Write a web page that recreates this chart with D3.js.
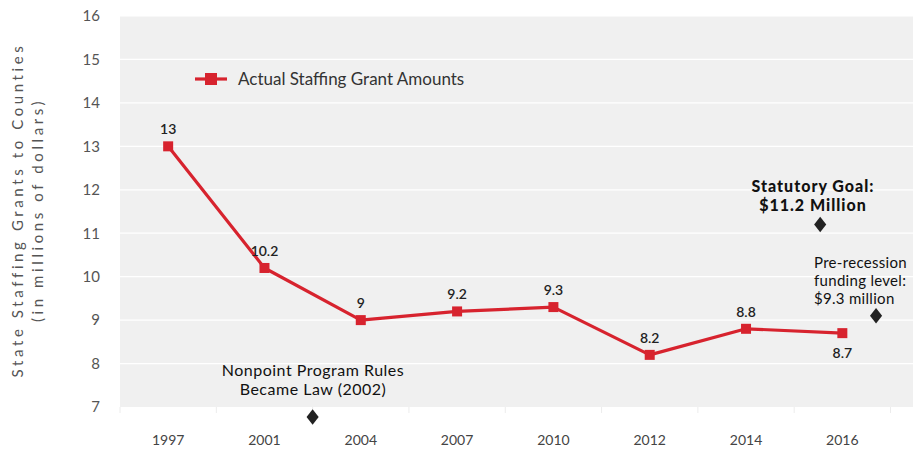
<!DOCTYPE html>
<html>
<head>
<meta charset="utf-8">
<script src="https://cdn.jsdelivr.net/npm/d3@7"></script>
<style>
  html, body { margin: 0; padding: 0; background: #fff; }
  svg { display: block; font-family: "Lato", "Open Sans", sans-serif; }
</style>
</head>
<body>
<svg id="chart" width="913" height="450"></svg>
<script>
// Staffing grant amounts by year (millions of dollars)
const years = ["1997", "2001", "2004", "2007", "2010", "2012", "2014", "2016"];
const grants = [13, 10.2, 9, 9.2, 9.3, 8.2, 8.8, 8.7];
const yTicks = [7, 8, 9, 10, 11, 12, 13, 14, 15, 16];

// Reference markers (diamonds) with their notes
const markerNames = ["Nonpoint rules", "Statutory goal", "Pre-recession level"];
const markerSlots = [2.0, 7.27, 7.85];   // position along the year axis, in category units
const markerValues = [6.77, 11.2, 9.1];

const W = 913, H = 450;
const plot = { left: 120, right: 913, top: 16, bottom: 407 };

const svg = d3.select("#chart");

const x = d3.scaleBand().domain(years).range([plot.left, 890.5]).paddingInner(0).paddingOuter(0);
const slot = d3.scaleLinear().domain([0, years.length]).range([plot.left, 890.5]);
const y = d3.scaleLinear().domain([7, 16]).range([plot.bottom, plot.top]);

// Plot background
svg.append("rect")
  .attr("x", plot.left).attr("y", plot.top)
  .attr("width", plot.right - plot.left).attr("height", plot.bottom - plot.top)
  .attr("fill", "#f0f0f0");

// Horizontal gridlines
svg.append("g").selectAll("line").data(yTicks.filter(d => d > 7)).join("line")
  .attr("x1", plot.left).attr("x2", plot.right)
  .attr("y1", d => y(d)).attr("y2", d => y(d))
  .attr("stroke", "#ffffff").attr("stroke-width", 1.2);

// Y axis labels
const yAxis = d3.axisLeft(y).tickValues(yTicks).tickSize(0).tickPadding(0).tickFormat(d3.format("d"));
const gy = svg.append("g").attr("transform", `translate(${plot.left - 20},0)`).call(yAxis);
gy.select(".domain").remove();
gy.selectAll("text").attr("font-size", 15).attr("fill", "#555").attr("font-family", "Lato, sans-serif");

// X axis: category labels and faint boundary ticks
const xAxis = d3.axisBottom(x).tickSize(0).tickPadding(0);
const gx = svg.append("g").attr("transform", `translate(0,${plot.bottom + 28})`).call(xAxis);
gx.select(".domain").remove();
gx.selectAll("text").attr("font-size", 14).attr("fill", "#444").attr("font-family", "Lato, sans-serif");

svg.append("g").selectAll("line").data(d3.range(years.length + 1)).join("line")
  .attr("x1", d => slot(d)).attr("x2", d => slot(d))
  .attr("y1", plot.bottom).attr("y2", plot.bottom + 6)
  .attr("stroke", "#ececec").attr("stroke-width", 1);

// Y axis title
const yTitle = svg.append("text")
  .attr("transform", `translate(23,210) rotate(-90)`)
  .attr("text-anchor", "middle")
  .attr("font-size", 15).attr("fill", "#555").attr("letter-spacing", 3.6);
yTitle.append("tspan").attr("x", 0).attr("dy", 0).text("State Staffing Grants to Counties");
yTitle.append("tspan").attr("x", 0).attr("dy", 20).text("(in millions of dollars)");

// Series line
const red = "#d7232e";
const pts = years.map((yr, i) => ({ yr, v: grants[i] }));
const line = d3.line().x(d => x(d.yr) + x.bandwidth() / 2).y(d => y(d.v));
svg.append("path").datum(pts)
  .attr("d", line).attr("fill", "none")
  .attr("stroke", red).attr("stroke-width", 3.2).attr("stroke-linejoin", "round");

svg.append("g").selectAll("rect").data(pts).join("rect")
  .attr("x", d => x(d.yr) + x.bandwidth() / 2 - 5)
  .attr("y", d => y(d.v) - 5)
  .attr("width", 10).attr("height", 10)
  .attr("fill", red);

// Value labels
svg.append("g").selectAll("text").data(pts).join("text")
  .attr("x", d => x(d.yr) + x.bandwidth() / 2)
  .attr("y", d => d.yr === "2016" ? y(d.v) + 25 : y(d.v) - 12)
  .attr("text-anchor", "middle")
  .attr("font-size", 14).attr("font-weight", 600).attr("fill", "#222")
  .text(d => d3.format("")(d.v));

// Legend
const lg = svg.append("g").attr("transform", "translate(195,79)");
lg.append("line").attr("x1", 0).attr("x2", 32).attr("y1", 0).attr("y2", 0)
  .attr("stroke", red).attr("stroke-width", 3.2);
lg.append("rect").attr("x", 10).attr("y", -6).attr("width", 12).attr("height", 12).attr("fill", red);
lg.append("text").attr("x", 43).attr("y", 6).attr("font-size", 17).attr("fill", "#333")
  .text("Actual Staffing Grant Amounts");

// Diamond markers
const diamond = d3.symbol().type(d3.symbolDiamond).size(70);
svg.append("g").selectAll("path").data(markerNames.map((n, i) => ({ n, s: markerSlots[i], v: markerValues[i] }))).join("path")
  .attr("d", diamond)
  .attr("transform", d => `translate(${slot(d.s)},${y(d.v)}) scale(1.35,1)`)
  .attr("fill", "#222");

// Notes
function note(lines, xPos, yPos, anchor, size, weight, gap, spacing) {
  const t = svg.append("text").attr("text-anchor", anchor)
    .attr("font-size", size).attr("font-weight", weight).attr("fill", "#111")
    .attr("letter-spacing", spacing || 0);
  lines.forEach((s, i) => t.append("tspan").attr("x", xPos).attr("y", yPos + i * gap).text(s));
}
note(["Nonpoint Program Rules", "Became Law (2002)"], 313, 376, "middle", 16, 400, 19, 0.5);
note(["Statutory Goal:", "$11.2 Million"], 813, 192, "middle", 16, 900, 19, 1);
note(["Pre-recession", "funding level:", "$9.3 million"], 814, 268, "start", 15, 400, 18, 0.3);
</script>
</body>
</html>
